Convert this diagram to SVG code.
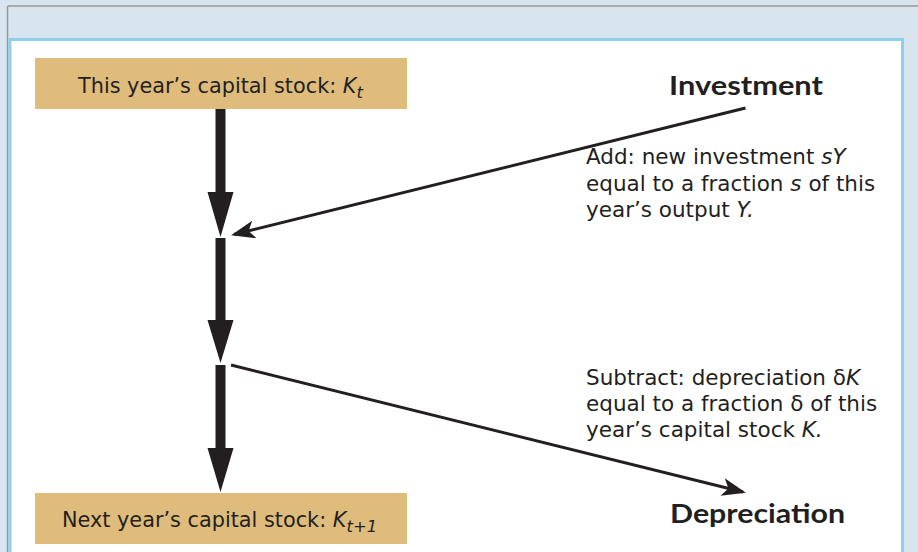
<svg xmlns="http://www.w3.org/2000/svg" width="918" height="552" viewBox="0 0 918 552">
<style>
.box{fill:#dfbc7c}
.lbl{font-family:"DejaVu Sans",Lato,sans-serif;font-size:20.8px;fill:#231f20}
.desc{font-family:"DejaVu Sans",Lato,sans-serif;font-size:21.5px;fill:#231f20}
.title{font-family:Lato,"Noto Sans",sans-serif;font-size:27px;font-weight:bold;fill:#231f20}
.it{font-style:italic}
.thick{fill:#231f20}
.thin{stroke:#231f20;stroke-width:3;fill:none}
</style>
<defs>
<marker id="ah" markerWidth="8" markerHeight="6" refX="7" refY="3" orient="auto" markerUnits="strokeWidth">
<path d="M0,0 L8,3 L0,6 L2,3 Z" fill="#231f20"/>
</marker>
</defs>
<rect x="0" y="0" width="918" height="552" fill="#d9e5ee"/>
<line x1="7.5" y1="6" x2="918" y2="6" stroke="#999" stroke-width="1.5"/>
<line x1="7.5" y1="6" x2="7.5" y2="552" stroke="#999" stroke-width="1.5"/>
<rect x="10" y="39.5" width="892.5" height="520" fill="#fff" stroke="#8ccfee" stroke-width="3"/>

<g id="box-this-year">
<rect class="box" x="35" y="58" width="372" height="51"/>
<text class="lbl" x="78" y="93">This year’s capital stock: <tspan class="it">K</tspan><tspan class="it" font-size="16.5" dy="5">t</tspan></text>
</g>

<g id="box-next-year">
<rect class="box" x="35" y="493" width="372" height="51"/>
<text class="lbl" x="62" y="527">Next year’s capital stock: <tspan class="it">K</tspan><tspan class="it" font-size="16.5" dy="5">t+1</tspan></text>
</g>

<g id="investment">
<text class="title" x="669" y="95" textLength="154" lengthAdjust="spacingAndGlyphs">Investment</text>
<text class="desc" x="586" y="164">Add: new investment <tspan class="it">sY</tspan></text>
<text class="desc" x="586" y="191">equal to a fraction <tspan class="it">s</tspan> of this</text>
<text class="desc" x="586" y="217">year’s output <tspan class="it">Y.</tspan></text>
</g>

<g id="depreciation">
<text class="title" x="670" y="523" textLength="175" lengthAdjust="spacingAndGlyphs">Depreciation</text>
<text class="desc" x="586" y="385">Subtract: depreciation δ<tspan class="it">K</tspan></text>
<text class="desc" x="586" y="411">equal to a fraction δ of this</text>
<text class="desc" x="586" y="437">year’s capital stock <tspan class="it">K.</tspan></text>
</g>

<g id="connectors">
<path class="thick" d="M215.5,109 H225.5 V192 H233.5 L220.5,237 L207.5,192 H215.5 Z"/>
<path class="thick" d="M215.5,238 H225.5 V320 H233.5 L220.5,363 L207.5,320 H215.5 Z"/>
<path class="thick" d="M215.5,365 H225.5 V448 H233.5 L220.5,492 L207.5,448 H215.5 Z"/>
<line class="thin" x1="745.5" y1="108" x2="234" y2="234.5" marker-end="url(#ah)"/>
<line class="thin" x1="231" y1="365" x2="743" y2="492" marker-end="url(#ah)"/>
</g>
</svg>
